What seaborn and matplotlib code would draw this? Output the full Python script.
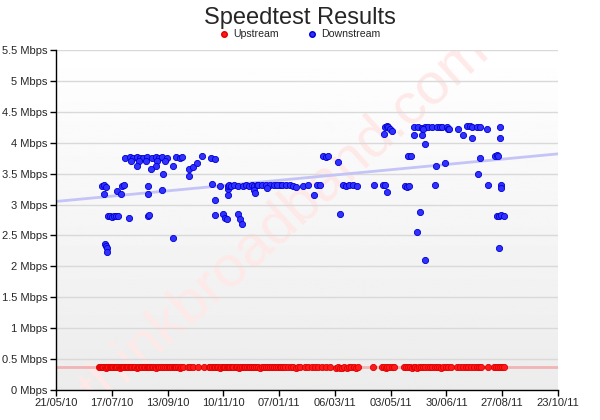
import numpy as np
import pandas as pd
import seaborn as sns
import matplotlib
matplotlib.use("Agg")
import matplotlib.pyplot as plt
import matplotlib.dates as mdates
from matplotlib.lines import Line2D
from matplotlib.ticker import FuncFormatter, MultipleLocator

# x values are days after 21/05/10
day0 = pd.Timestamp("2010-05-21")
axis_start = pd.Timestamp("2010-05-21 01:00")
tick_step = pd.Timedelta(days=57.875)
axis_end = axis_start + 9 * tick_step

up_days = [45, 46, 47, 48, 49, 51, 52, 53, 54, 56, 57, 58, 59, 61, 62, 63, 65, 66, 67, 69,
           70, 71, 73, 74, 75, 77, 78, 79, 81, 82, 84, 85, 86, 88, 89, 91, 92, 94, 95, 97,
           98, 100, 101, 103, 104, 106, 107, 109, 111, 113, 115, 117, 118, 120, 122, 123, 125, 127, 129, 130,
           132, 137, 139, 142, 147, 154,
           159, 160, 162, 164, 165, 167, 168, 170, 171, 173, 174, 175, 177, 178, 180, 181, 183, 184, 187, 188,
           190, 191, 193, 195, 196, 198, 200, 201, 203, 205, 206, 208, 210, 212, 214, 216, 218, 220, 222, 224,
           226, 228, 230, 232, 234, 236, 238, 241,
           244, 246, 249, 251, 253, 258, 262, 266, 269, 272, 276, 280, 284,
           291, 293, 295, 297, 299, 302, 304, 306, 309, 311, 313,
           329, 338, 340, 342, 344, 346, 349, 351,
           361, 363, 365, 367, 369, 371, 373, 375, 377, 379, 381, 383, 386, 388, 390, 393, 395, 397, 400, 402,
           405, 407, 410,
           416, 419, 422, 425, 428, 431, 434, 437, 439, 441,
           448,
           455, 457, 459, 461, 463, 465]
up_mbps = [0.37, 0.37, 0.38, 0.37, 0.37, 0.37, 0.36, 0.37, 0.37, 0.37, 0.37, 0.38, 0.37, 0.37, 0.37, 0.37, 0.37, 0.36, 0.37, 0.37,
           0.37, 0.37, 0.37, 0.38, 0.37, 0.37, 0.37, 0.37, 0.37, 0.37, 0.36, 0.37, 0.37, 0.37, 0.37, 0.38, 0.37, 0.37, 0.37, 0.37,
           0.37, 0.37, 0.37, 0.37, 0.36, 0.37, 0.37, 0.37, 0.38, 0.37, 0.37, 0.37, 0.37, 0.37, 0.37, 0.37, 0.37, 0.37, 0.36, 0.37,
           0.37, 0.37, 0.37, 0.38, 0.37, 0.37,
           0.37, 0.37, 0.38, 0.37, 0.37, 0.37, 0.37, 0.36, 0.37, 0.37, 0.37, 0.37, 0.37, 0.38, 0.37, 0.37, 0.37, 0.37, 0.37, 0.37,
           0.36, 0.37, 0.37, 0.37, 0.37, 0.37, 0.38, 0.37, 0.37, 0.37, 0.37, 0.37, 0.37, 0.36, 0.37, 0.37, 0.37, 0.37, 0.37, 0.37,
           0.37, 0.38, 0.37, 0.37, 0.37, 0.37, 0.37, 0.37,
           0.37, 0.37, 0.36, 0.37, 0.37, 0.37, 0.37, 0.38, 0.37, 0.37, 0.37, 0.37, 0.37,
           0.36, 0.37, 0.35, 0.36, 0.37, 0.36, 0.37, 0.37, 0.37, 0.36, 0.37,
           0.37, 0.37, 0.37, 0.36, 0.37, 0.37, 0.37, 0.37,
           0.37, 0.37, 0.37, 0.37, 0.36, 0.37, 0.37, 0.36, 0.37, 0.37, 0.37, 0.37, 0.38, 0.37, 0.37, 0.37, 0.37, 0.37, 0.36, 0.37,
           0.37, 0.37, 0.37,
           0.37, 0.37, 0.37, 0.37, 0.37, 0.37, 0.37, 0.37, 0.37, 0.37,
           0.37,
           0.37, 0.37, 0.37, 0.37, 0.37, 0.37]

down_days = [48, 50, 52, 50, 51, 52, 53, 53, 54, 56,
             58, 60, 62, 64, 63, 67, 69, 71, 72, 77,
             80, 84, 87, 90, 94, 100, 104, 107, 110, 115,
             125, 129, 76, 78, 86, 93, 105, 113, 84, 104,
             121, 99, 111, 95, 95, 96, 97, 110, 121, 131,
             138, 142, 138, 146, 152, 161, 165, 162, 165, 165,
             170, 173, 175, 177, 178, 179, 178, 180, 182, 185,
             189, 189, 191, 193, 194, 197, 200, 203, 206, 209,
             205, 207, 210, 214, 218, 222, 226, 232, 219, 229,
             235, 239, 243, 246, 249, 256, 262, 271, 274, 268,
             277, 280, 282, 293, 295, 298, 301, 304, 308, 312,
             330, 339, 341, 344, 340, 341, 343, 345, 347, 349,
             362, 364, 366, 365, 368, 372, 372, 376, 380, 383,
             386, 390, 380, 381, 383, 378, 375, 383, 393, 394,
             395, 398, 401, 406, 404, 407, 408, 417, 422, 427,
             430, 432, 432, 437, 440, 447, 461, 461, 440, 438,
             448, 456, 458, 459, 462, 462, 458, 460, 462, 465,
             460]
down_mbps = [3.30, 3.31, 3.29, 3.17, 2.36, 2.33, 2.30, 2.24, 2.81, 2.82,
             2.80, 2.82, 2.81, 2.82, 3.22, 3.17, 3.30, 3.31, 3.76, 3.77,
             3.76, 3.77, 3.76, 3.75, 3.77, 3.76, 3.77, 3.76, 3.77, 3.76,
             3.77, 3.76, 2.79, 3.71, 3.70, 3.71, 3.71, 3.70, 3.62, 3.62,
             3.63, 3.57, 3.49, 3.30, 3.17, 2.81, 2.83, 3.24, 2.46, 3.77,
             3.57, 3.61, 3.46, 3.67, 3.78, 3.75, 3.74, 3.33, 3.07, 2.83,
             3.30, 2.84, 2.78, 2.76, 3.15, 3.25, 3.30, 3.31, 3.30, 3.31,
             3.30, 2.84, 2.77, 2.68, 3.30, 3.31, 3.30, 3.31, 3.30, 3.31,
             3.24, 3.18, 3.32, 3.32, 3.31, 3.32, 3.32, 3.32, 3.27, 3.32,
             3.32, 3.32, 3.32, 3.30, 3.29, 3.30, 3.31, 3.31, 3.31, 3.15,
             3.78, 3.77, 3.79, 3.69, 2.84, 3.31, 3.30, 3.31, 3.31, 3.30,
             3.31, 3.31, 3.31, 3.20, 4.14, 4.26, 4.27, 4.25, 4.22, 4.19,
             3.30, 3.29, 3.30, 3.79, 3.79, 4.25, 4.12, 4.25, 4.24, 4.25,
             4.25, 4.25, 4.12, 4.23, 3.98, 2.88, 2.56, 2.10, 3.31, 3.62,
             4.25, 4.25, 4.26, 4.25, 3.67, 4.23, 4.23, 4.23, 4.12, 4.27,
             4.27, 4.26, 4.07, 4.25, 4.25, 4.23, 4.25, 4.07, 3.75, 3.49,
             3.31, 3.79, 3.80, 3.79, 3.31, 3.27, 2.82, 2.82, 2.83, 2.82,
             2.30]

# trend lines, value at the left and right axis edges
up_trend = [0.375, 0.375]
down_trend = [3.05, 3.82]

up = pd.DataFrame({"date": day0 + pd.to_timedelta(up_days, unit="D"), "mbps": up_mbps})
down = pd.DataFrame({"date": day0 + pd.to_timedelta(down_days, unit="D"), "mbps": down_mbps})
trend = pd.DataFrame({"date": [axis_start, axis_end, axis_start, axis_end],
                      "mbps": up_trend + down_trend,
                      "kind": ["up", "up", "down", "down"]})

sns.set_style("white")
plt.rcParams["font.family"] = ["Liberation Sans", "DejaVu Sans"]

fig = plt.figure(figsize=(6, 4.2), dpi=100)
pos = [56 / 600, 30 / 420, 502 / 600, 340 / 420]

# gradient background behind the plot area
bg = fig.add_axes(pos, zorder=0)
grad = np.linspace(1.0, 0.925, 256).reshape(-1, 1)
bg.imshow(grad, aspect="auto", cmap="gray", vmin=0, vmax=1, extent=[0, 1, 0, 1])
bg.axis("off")

ax = fig.add_axes(pos, zorder=1)
ax.set_facecolor("none")

ax.text(0.455, 0.50, "thinkbroadband.com", transform=ax.transAxes, rotation=42,
        fontsize=42, color="#ffe9e9", ha="center", va="center", zorder=0, clip_on=True)

for v in np.arange(0.5, 5.51, 0.5):
    ax.axhline(v, color="#d9d9d9", lw=1, zorder=1)

sns.lineplot(data=trend[trend.kind == "down"], x="date", y="mbps", color="#c4c4f6", lw=2, ax=ax, zorder=2)
sns.lineplot(data=trend[trend.kind == "up"], x="date", y="mbps", color="#f2b4b4", lw=2, ax=ax, zorder=2)

sns.scatterplot(data=up, x="date", y="mbps", color="#ff1a1a", edgecolor="#e00000", s=20, lw=0.6,
                ax=ax, zorder=3)
sns.scatterplot(data=down, x="date", y="mbps", color="#3030ff", edgecolor="#0000d0", s=20, lw=0.6,
                ax=ax, zorder=3)

ax.set_xlim(axis_start, axis_end)
ax.set_ylim(0, 5.5)
ax.set_xticks([axis_start + i * tick_step for i in range(10)])
ax.xaxis.set_major_formatter(mdates.DateFormatter("%d/%m/%y"))
ax.yaxis.set_major_locator(MultipleLocator(0.5))
ax.yaxis.set_major_formatter(FuncFormatter(lambda v, p: f"{v:g} Mbps"))
ax.set_xlabel("")
ax.set_ylabel("")
ax.tick_params(axis="both", which="both", direction="out", length=4, width=1, color="black",
               labelsize=8, pad=2, left=True, bottom=True)
for side in ["top", "right"]:
    ax.spines[side].set_visible(False)
for side in ["left", "bottom"]:
    ax.spines[side].set_color("black")
    ax.spines[side].set_linewidth(1)

fig.text(0.5, 0.958, "Speedtest Results", ha="center", va="center", fontsize=17)
handles = [Line2D([], [], marker="o", ls="", color="#ff1a1a", markeredgecolor="#e00000", markersize=4, label="Upstream"),
           Line2D([], [], marker="o", ls="", color="#3030ff", markeredgecolor="#0000d0", markersize=4, label="Downstream")]
fig.legend(handles=handles, loc="center", bbox_to_anchor=(0.5, 0.918), ncol=2, frameon=False,
           fontsize=7.6, columnspacing=2.7, handletextpad=0.5, handlelength=0.8)

fig.savefig("out.png", dpi=100)
